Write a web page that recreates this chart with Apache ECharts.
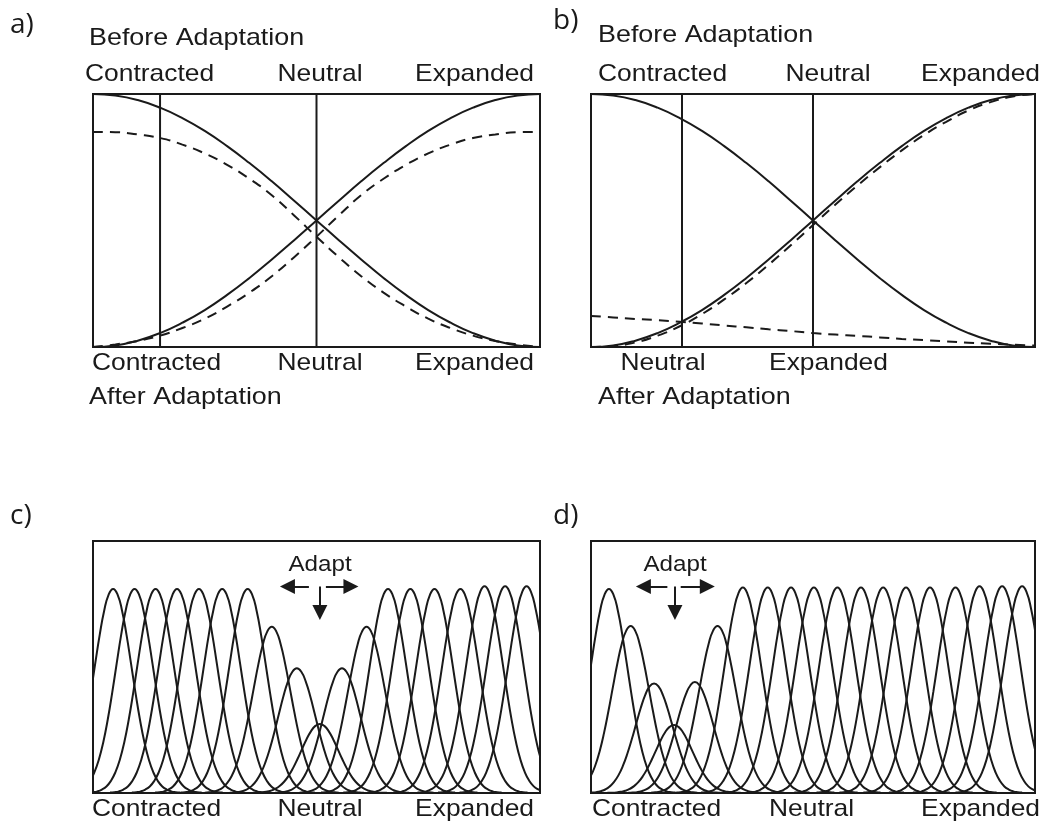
<!DOCTYPE html>
<html><head><meta charset="utf-8">
<script src="https://cdn.jsdelivr.net/npm/echarts@6/dist/echarts.min.js"></script>
<style>html,body{margin:0;padding:0;background:#fff}#c{width:1044px;height:825px}</style>
</head><body><div id="c"></div>
<script>
// ---------- data ----------
const xSamples = [0,5,10,15,20,25,30,35,40,45,50,55,60,65,70,75,80,85,90,95,100];

// panel a (before = solid, after = dashed)
const aSolidDown = [1,0.994,0.976,0.946,0.905,0.854,0.794,0.727,0.655,0.578,0.5,0.422,0.346,0.273,0.206,0.146,0.096,0.055,0.025,0.006,0];
const aSolidUp   = [0,0.006,0.025,0.055,0.096,0.146,0.206,0.273,0.346,0.422,0.5,0.578,0.655,0.727,0.794,0.854,0.905,0.946,0.976,0.994,1];
const aDashDown  = [0.85,0.849,0.84,0.826,0.80,0.765,0.72,0.665,0.60,0.52,0.436,0.355,0.28,0.215,0.16,0.112,0.075,0.045,0.024,0.01,0];
const aDashUp    = [0,0.01,0.024,0.045,0.075,0.112,0.16,0.215,0.28,0.355,0.436,0.52,0.60,0.665,0.72,0.765,0.80,0.826,0.84,0.849,0.85];
const aMarkers   = [15, 50];

// panel b
const bSolidDown = [1,0.994,0.976,0.946,0.905,0.854,0.794,0.727,0.655,0.578,0.5,0.422,0.346,0.273,0.206,0.146,0.096,0.055,0.025,0.006,0];
const bSolidUp   = [0,0.006,0.025,0.055,0.096,0.146,0.206,0.273,0.346,0.422,0.5,0.578,0.655,0.727,0.794,0.854,0.905,0.946,0.976,0.994,1];
const bDashDown  = [0.123,0.117,0.111,0.106,0.100,0.093,0.085,0.078,0.070,0.063,0.055,0.049,0.044,0.038,0.032,0.027,0.022,0.017,0.013,0.009,0.006];
const bDashUp    = [0,0.004,0.018,0.045,0.082,0.13,0.188,0.253,0.325,0.402,0.482,0.562,0.638,0.71,0.777,0.838,0.89,0.935,0.968,0.99,1];
const bMarkers   = [20.5, 50];

// panels c, d : tuning curves (shared profile, centre + peak per curve)
const profileOffsets = [-15,-14,-13,-12,-11,-10,-9,-8,-7,-6,-5,-4,-3,-2,-1,0,1,2,3,4,5,6,7,8,9,10,11,12,13,14,15];
const tuningProfile  = [0.002,0.004,0.008,0.017,0.032,0.059,0.101,0.163,0.249,0.360,0.492,0.635,0.775,0.893,0.972,1,
                        0.972,0.893,0.775,0.635,0.492,0.360,0.249,0.163,0.101,0.059,0.032,0.017,0.008,0.004,0.002];
const cCenters = [4.5,9.3,14.0,18.8,23.7,28.9,34.6,40.0,45.6,50.75,55.7,61.2,66.0,71.0,76.4,82.2,87.6,92.2,97.0];
const cPeaks   = [0.81,0.81,0.81,0.81,0.81,0.81,0.81,0.66,0.495,0.274,0.495,0.66,0.81,0.81,0.81,0.81,0.82,0.82,0.82];
const dCenters = [4.05,8.94,14.2,18.7,23.4,28.5,34.2,39.8,45.05,50.2,55.5,60.8,65.8,70.95,76.35,82.1,87.5,92.6,97.1];
const dPeaks   = [0.81,0.663,0.435,0.27,0.44,0.663,0.815,0.815,0.815,0.815,0.815,0.815,0.815,0.815,0.815,0.815,0.82,0.82,0.82];
// adapt arrows [x0,y0,x1,y1] in data units
const cArrows = [[48.3,0.819,43.5,0.819],[52.1,0.819,57.7,0.819],[50.75,0.819,50.75,0.716]];
const dArrows = [[17.2,0.819,11.8,0.819],[20.2,0.819,26.2,0.819],[18.9,0.819,18.9,0.716]];

// text
const panelLetters = ['a)','b)','c)','d)'];
const beforeTitle = 'Before Adaptation';
const afterTitle = 'After Adaptation';
const adaptText = 'Adapt';
const topTickLabels = ['Contracted','Neutral','Expanded'];
const bottomTickLabelsA = ['Contracted','Neutral','Expanded'];
const bottomTickLabelsB = ['Neutral','Expanded'];
const bottomTickLabelsCD = ['Contracted','Neutral','Expanded'];

// ---------- build ----------
const INK = '#1a1a1a';
const grids = [
  {left:93, top:94, width:447, height:253},
  {left:591, top:94, width:444, height:253},
  {left:93, top:541, width:447, height:252},
  {left:591, top:541, width:444, height:252}
].map(g => Object.assign(g, {show:true, borderColor:INK, borderWidth:2, backgroundColor:'rgba(0,0,0,0)'}));

const xAxes = grids.map((g,i)=>({gridIndex:i,type:'value',min:0,max:100,show:false}));
const yAxes = grids.map((g,i)=>({gridIndex:i,type:'value',min:0,max:1,show:false}));

const series = [];
function curve(idx, ys, dashed) {
  series.push({type:'line', xAxisIndex:idx, yAxisIndex:idx, data: xSamples.map((x,i)=>[x, ys[i]]),
    symbol:'none', smooth:true, silent:true, animation:false, clip:true,
    lineStyle:{color:INK, width:2, type: dashed ? [10,7] : 'solid'}});
}
function vline(idx, x) {
  series.push({type:'line', xAxisIndex:idx, yAxisIndex:idx, data:[[x,0],[x,1]],
    symbol:'none', silent:true, animation:false, lineStyle:{color:INK, width:2}});
}
curve(0,aSolidDown,false); curve(0,aSolidUp,false); curve(0,aDashDown,true); curve(0,aDashUp,true);
aMarkers.forEach(x=>vline(0,x));
curve(1,bSolidDown,false); curve(1,bSolidUp,false); curve(1,bDashDown,true); curve(1,bDashUp,true);
bMarkers.forEach(x=>vline(1,x));

function tuning(idx, centers, peaks) {
  centers.forEach((c,j)=>{
    series.push({type:'line', xAxisIndex:idx, yAxisIndex:idx,
      data: profileOffsets.map((o,k)=>[c+o, peaks[j]*tuningProfile[k]]),
      symbol:'none', smooth:true, silent:true, animation:false, clip:true,
      lineStyle:{color:INK, width:2}});
  });
}
tuning(2,cCenters,cPeaks);
tuning(3,dCenters,dPeaks);

function arrows(idx, list) {
  series.push({type:'line', xAxisIndex:idx, yAxisIndex:idx, data:[], silent:true, animation:false,
    markLine:{silent:true, animation:false, symbol:['none','triangle'], symbolSize:15,
      label:{show:false}, lineStyle:{color:INK, width:2, type:'solid'}, itemStyle:{color:INK},
      data: list.map(a=>[{coord:[a[0],a[1]]},{coord:[a[2],a[3]]}])}});
}
arrows(2,cArrows); arrows(3,dArrows);

const SANS = '"Liberation Sans", Arial, Helvetica, sans-serif';
function txt(s, x, y, align, size, fam, sx) {
  return {type:'text', x:x, y:y, scaleX: sx||1.1, silent:true,
    style:{text:s, fill:INK, font: size+'px '+(fam||SANS), textAlign:align, align:align,
      textVerticalAlign:'middle', verticalAlign:'middle'}};
}
const LET = '"Open Sans", "Noto Sans", sans-serif';
const g = [
  txt(panelLetters[0], 10, 25, 'left', 28, LET, 1),
  txt(panelLetters[1], 553, 21, 'left', 28, LET, 1),
  txt(panelLetters[2], 10, 516, 'left', 28, LET, 1),
  txt(panelLetters[3], 553, 516, 'left', 28, LET, 1),
  txt(beforeTitle, 89, 38, 'left', 24, SANS, 1.12),
  txt(beforeTitle, 598, 35, 'left', 24, SANS, 1.12),
  txt(topTickLabels[0], 85, 74, 'left', 24),
  txt(topTickLabels[1], 320, 74, 'center', 24),
  txt(topTickLabels[2], 534, 74, 'right', 24),
  txt(topTickLabels[0], 598, 74, 'left', 24),
  txt(topTickLabels[1], 828, 74, 'center', 24),
  txt(topTickLabels[2], 1040, 74, 'right', 24),
  txt(bottomTickLabelsA[0], 92, 363.5, 'left', 24),
  txt(bottomTickLabelsA[1], 320, 363.5, 'center', 24),
  txt(bottomTickLabelsA[2], 534, 363.5, 'right', 24),
  txt(bottomTickLabelsB[0], 663, 363.5, 'center', 24),
  txt(bottomTickLabelsB[1], 828.5, 363.5, 'center', 24),
  txt(afterTitle, 89, 397, 'left', 24, SANS, 1.12),
  txt(afterTitle, 598, 397, 'left', 24, SANS, 1.12),
  txt(adaptText, 320, 565, 'center', 22),
  txt(adaptText, 675, 565, 'center', 22),
  txt(bottomTickLabelsCD[0], 92, 809, 'left', 24),
  txt(bottomTickLabelsCD[1], 320, 809, 'center', 24),
  txt(bottomTickLabelsCD[2], 534, 809, 'right', 24),
  txt(bottomTickLabelsCD[0], 592, 809, 'left', 24),
  txt(bottomTickLabelsCD[1], 811.5, 809, 'center', 24),
  txt(bottomTickLabelsCD[2], 1040, 809, 'right', 24)
];

const chart = echarts.init(document.getElementById('c'), null, {renderer:'canvas'});
chart.setOption({animation:false, backgroundColor:'#fff', grid:grids, xAxis:xAxes, yAxis:yAxes, series:series, graphic:g});
</script></body></html>
